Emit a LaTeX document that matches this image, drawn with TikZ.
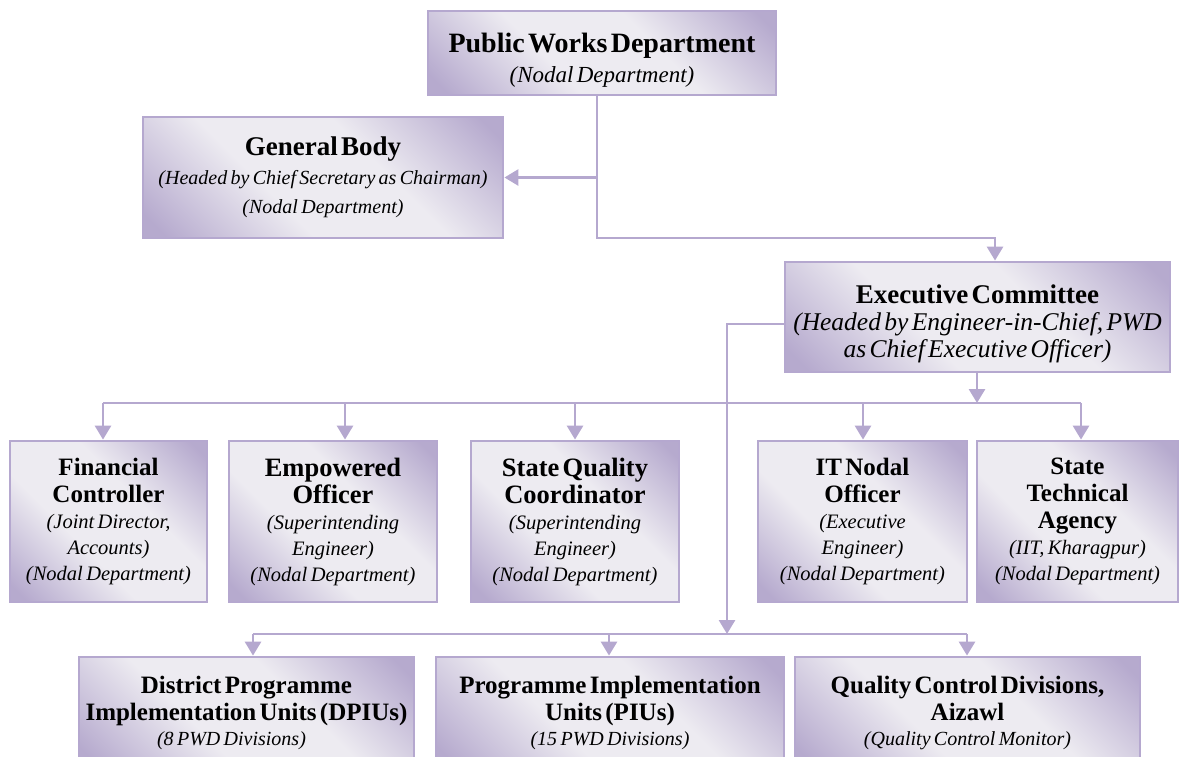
\documentclass[tikz,border=0pt]{standalone}
\usepackage{fontspec}
\setmainfont{Liberation Serif}
\usetikzlibrary{arrows.meta}

\definecolor{lavline}{HTML}{B5A8CF}
\definecolor{lavdark}{HTML}{B6AACE}
\definecolor{lavlight}{HTML}{EDEBF1}

% diagonal fade used to fill the boxes: darker corners, light middle band
\pgfdeclareverticalshading{boxfade}{100bp}{%
  color(0bp)=(lavdark); color(18bp)=(lavdark); color(40bp)=(lavlight);
  color(60bp)=(lavlight); color(82bp)=(lavdark); color(100bp)=(lavdark)}

% title and note lines: size, baseline skip, text
\newcommand\boxhead[3]{{\fontsize{#1}{#2}\selectfont\bfseries #3\par}}
\newcommand\boxnote[3]{{\fontsize{#1}{#2}\selectfont\itshape #3\par}}
\newcommand\cellhead[2][25]{{\fontsize{#1}{27}\selectfont\bfseries #2\par}}
\newcommand\cellnote[1]{{\fontsize{20.5}{26}\selectfont\itshape #1\par}}
\newcommand\unitnote[1]{{\fontsize{20}{25}\selectfont\itshape #1\par}}
% taller first line, moves a text block slightly down in its box
\newcommand\headroom{\rule{0pt}{33pt}}

\tikzset{
  orgbox/.style={draw=lavline, line width=2.8pt, shading=boxfade,
    shading angle=-45, inner sep=0pt, align=center},
  link/.style={draw=lavline, line width=2.8pt},
  tip/.style={link, -{Triangle[width=16pt,length=14pt]}},
}

\begin{document}
\begin{tikzpicture}[x=1pt,y=-1pt]
\useasboundingbox (0,0) rectangle (1182,756);

% ---- top level ----
\node[orgbox, minimum width=348pt, minimum height=84pt, text width=344pt]
  (pwd) at (602,53)
  {\boxhead{28}{31}{\headroom Public Works Department}\boxnote{23}{30}{(Nodal Department)}};

\node[orgbox, minimum width=360pt, minimum height=121pt, text width=356pt]
  (gb) at (323,177.5)
  {\boxhead{27}{31}{General Body}\boxnote{20}{29}{(Headed by Chief Secretary as Chairman)\\(Nodal Department)}};

\node[orgbox, minimum width=385pt, minimum height=110pt, text width=383pt]
  (ec) at (977.5,317)
  {\boxhead{27}{31}{\headroom Executive Committee}\boxnote{25.5}{27}{(Headed by Engineer-in-Chief, PWD\\as Chief Executive Officer)}};

% ---- officers row ----
\node[orgbox, minimum width=197pt, minimum height=161pt, text width=195pt]
  (fc) at (108.5,521.5)
  {\cellhead{Financial\\Controller}\cellnote{(Joint Director,\\Accounts)\\(Nodal Department)}};
\node[orgbox, minimum width=208pt, minimum height=161pt, text width=204pt]
  (eo) at (333,521.5)
  {\cellhead[26.5]{Empowered\\Officer}\cellnote{(Superintending\\Engineer)\\(Nodal Department)}};
\node[orgbox, minimum width=208pt, minimum height=161pt, text width=204pt]
  (sqc) at (575,521.5)
  {\cellhead[26.5]{State Quality\\Coordinator}\cellnote{(Superintending\\Engineer)\\(Nodal Department)}};
\node[orgbox, minimum width=209pt, minimum height=161pt, text width=205pt]
  (ito) at (862.5,521.5)
  {\cellhead{IT Nodal\\Officer}\cellnote{(Executive\\Engineer)\\(Nodal Department)}};
\node[orgbox, minimum width=201pt, minimum height=161pt, text width=199pt]
  (sta) at (1077.5,521.5)
  {\cellhead{State\\Technical\\Agency}\cellnote{(IIT, Kharagpur)\\(Nodal Department)}};

% ---- implementation row (runs past the lower edge) ----
\node[orgbox, minimum width=335pt, minimum height=112pt, text width=331pt]
  (dpiu) at (246.5,713)
  {\cellhead{District Programme\\Implementation Units (DPIUs)}\unitnote{\hspace*{-30pt}(8 PWD Divisions)}};
\node[orgbox, minimum width=348pt, minimum height=112pt, text width=344pt]
  (piu) at (610,713)
  {\cellhead{Programme Implementation\\Units (PIUs)}\unitnote{(15 PWD Divisions)}};
\node[orgbox, minimum width=345pt, minimum height=112pt, text width=341pt]
  (qc) at (967.5,713)
  {\cellhead{Quality Control Divisions,\\Aizawl}\unitnote{(Quality Control Monitor)}};

% ---- connector bend points ----
\coordinate (jA) at (597,238);
\coordinate (jB) at (995,238);
\coordinate (jC) at (727,324);
\coordinate (hubR) at (977,403);
\coordinate (hubB) at (727,634);
\coordinate (dA) at (103,403);
\coordinate (dB) at (345,403);
\coordinate (dC) at (575,403);
\coordinate (dD) at (863,403);
\coordinate (dE) at (1081,403);
\coordinate (bA) at (253,634);
\coordinate (bB) at (609,634);
\coordinate (bC) at (967,634);

% PWD to General Body and Executive Committee
\draw[tip] (pwd.south -| jA) -- (jA) -- (jB) -- (ec.north -| jB);
\draw[tip] (jA |- gb.east) -- (gb.east);

% Executive Committee to the officers
\draw[tip] (ec.south -| hubR) -- (hubR);
\draw[link] (dA) -- (dE);
\draw[tip] (dA) -- (fc.north -| dA);
\draw[tip] (dB) -- (eo.north -| dB);
\draw[tip] (dC) -- (sqc.north -| dC);
\draw[tip] (dD) -- (ito.north -| dD);
\draw[tip] (dE) -- (sta.north -| dE);

% Executive Committee to the implementation units
\draw[tip] (ec.west |- jC) -- (jC) -- (hubB);
\draw[link] (bA) -- (bC);
\draw[tip] (bA) -- (dpiu.north -| bA);
\draw[tip] (bB) -- (piu.north -| bB);
\draw[tip] (bC) -- (qc.north -| bC);
\end{tikzpicture}
\end{document}
